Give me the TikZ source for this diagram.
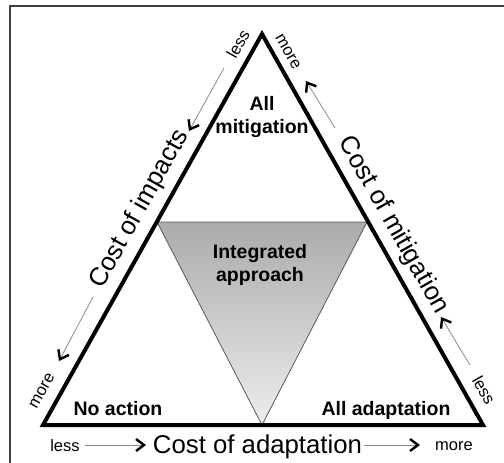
\documentclass[tikz,border=0pt]{standalone}
\usepackage{fontspec}
\setmainfont{Liberation Sans}
\usetikzlibrary{arrows.meta}
\begin{document}
\begin{tikzpicture}[x=1pt,y=-1pt,
  boldlabel/.style={font=\fontsize{19.5}{22.5}\selectfont\bfseries, align=center, inner sep=0pt},
  axislabel/.style={font=\fontsize{25.75}{30}\selectfont, inner sep=0pt},
  smalllabel/.style={font=\fontsize{16.5}{19}\selectfont, inner sep=0pt},
  dirarrow/.style={draw=black!45, line width=0.8pt, -{Straight Barb[black,length=8pt,width=12pt,line width=2.4pt]}},
  edge/.style={draw=black, line width=4pt, line join=miter},
  inner/.style={draw=black!65, line width=0.8pt, top color=black!33, bottom color=black!7}
]
\clip (0,0) rectangle (504,463);
\fill[white] (0,0) rectangle (504,463);
\draw[draw=black!75, line width=2pt] (10,6) rectangle (520,480);
% vertices
\coordinate (T) at (262,34);
\coordinate (BL) at (43,425);
\coordinate (BR) at (483,425);
\coordinate (IL) at (157,222);
\coordinate (IR) at (367,222);
\coordinate (IB) at (262,425);
% inner triangle
\path[inner] (IL) -- (IR) -- (IB) -- cycle;
% outer triangle
\path[edge] (T) -- (BR) -- (BL) -- cycle;
% region labels
\node[boldlabel] (allmit) at (262,117) {All\\mitigation};
\node[boldlabel] (integ) at (260,265) {Integrated\\approach};
\node[boldlabel, anchor=base] (noact) at (118,415) {No action};
\node[boldlabel, anchor=base] (alladapt) at (386,415) {All adaptation};
% axis labels
\node[axislabel, anchor=base] (cadapt) at (257.5,453) {Cost of adaptation};
\node[axislabel, anchor=base, rotate=60.75] (cimp) at (145.5,212.5) {Cost of impacts};
\node[axislabel, anchor=base, rotate=-60.5] (cmit) at (387.5,228.5) {Cost of mitigation};
% small labels
\node[smalllabel, anchor=base] (lessB) at (65,451) {less};
\node[smalllabel, anchor=base] (moreB) at (454,450) {more};
\node[smalllabel, rotate=60.75] (lessTL) at (238,44) {less};
\node[smalllabel, rotate=60.75] (moreBL) at (42,391) {more};
\node[smalllabel, rotate=-60.5] (moreTR) at (288,52) {more};
\node[smalllabel, rotate=-60.5] (lessBR) at (484,390) {less};
% arrow ends
\coordinate (a1s) at (85,445);   \coordinate (a1e) at (146,445);
\coordinate (a2s) at (364,445);  \coordinate (a2e) at (420,445);
\coordinate (a3s) at (224,68);   \coordinate (a3e) at (189,131);
\coordinate (a4s) at (93,297);   \coordinate (a4e) at (59,361);
\coordinate (a5s) at (335,128);  \coordinate (a5e) at (306,81);
\coordinate (a6s) at (470,365);  \coordinate (a6e) at (441,317);
\draw[dirarrow] (a1s) -- (a1e);
\draw[dirarrow] (a2s) -- (a2e);
\draw[dirarrow] (a3s) -- (a3e);
\draw[dirarrow] (a4s) -- (a4e);
\draw[dirarrow] (a5s) -- (a5e);
\draw[dirarrow] (a6s) -- (a6e);
\end{tikzpicture}
\end{document}
